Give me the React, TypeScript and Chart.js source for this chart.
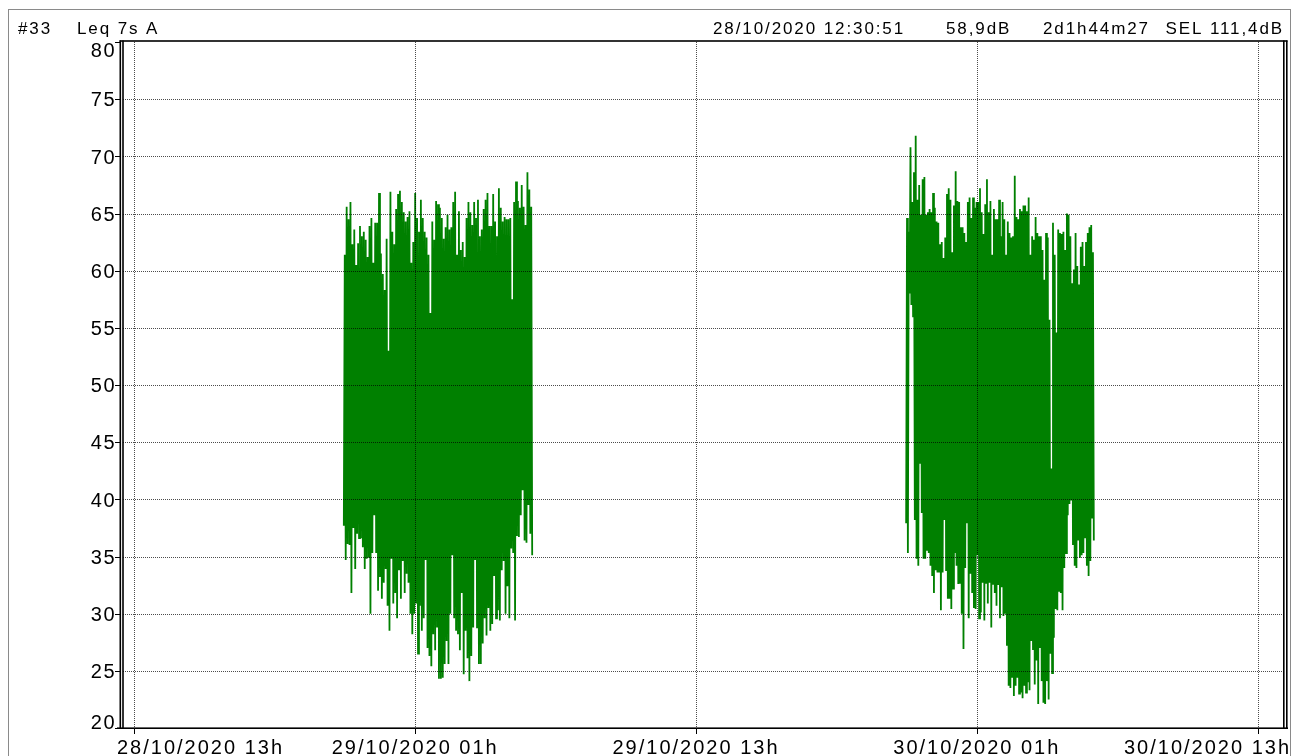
import React, { useEffect, useRef } from 'react';
import { Chart, registerables } from 'chart.js';

Chart.register(...registerables);

// ---- header texts ----
const headerId = '#33';
const headerMeasure = 'Leq 7s A';
const headerStart = '28/10/2020 12:30:51';
const headerLeq = '58,9dB';
const headerDuration = '2d1h44m27';
const headerSel = 'SEL 111,4dB';

// ---- time axis: hours since 28/10/2020 00:00 ----
const xMin = 12 + 30 / 60 + 51 / 3600; // 28/10/2020 12:30:51
const xMax = xMin + 49 + 44 / 60 + 27 / 3600; // + 2d1h44m27
const xTickHours = [13, 25, 37, 49, 61];
const xTickLabels = ['28/10/2020 13h', '29/10/2020 01h', '29/10/2020 13h', '30/10/2020 01h', '30/10/2020 13h'];
const yTickValues = [20, 25, 30, 35, 40, 45, 50, 55, 60, 65, 70, 75, 80];

// ---- night 1 (28/10 ~21:57 -> 29/10 ~06:00) ----
const night1Start = 21.95;
const night1End = 30.0;
const night1High = [
  61.4, 65.6, 64.5, 66.0, 62.3, 63.6, 60.5, 62.4, 63.9, 63.0, 63.4, 62.7, 61.2, 63.9, 64.6, 60.7, 64.2, 64.2, 66.8, 61.5,
  59.7, 58.3, 62.8, 53.0, 66.9, 63.4, 62.3, 65.4, 66.7, 67.0, 66.0, 65.1, 64.3, 64.7, 65.2, 60.7, 62.5, 66.8, 64.6, 63.4,
  66.2, 64.6, 63.4, 62.9, 61.4, 56.3, 64.3, 62.7, 66.1, 65.8, 65.5, 64.6, 62.8, 63.8, 64.9, 63.6, 63.8, 66.0, 66.9, 61.4,
  65.2, 61.8, 62.5, 61.2, 64.6, 66.0, 65.1, 64.0, 66.0, 64.6, 66.2, 63.0, 63.6, 65.4, 66.2, 66.8, 63.9, 63.9, 66.7, 64.3,
  63.0, 67.2, 65.5, 64.3, 64.7, 64.5, 64.5, 64.6, 57.5, 66.0, 67.8, 66.1, 65.5, 67.5, 65.6, 64.0, 68.6, 67.1, 65.6,
];
const night1Low = [
  37.7, 34.7, 36.1, 36.0, 31.8, 37.5, 33.9, 37.0, 36.6, 36.6, 35.8, 33.9, 34.8, 34.9, 30.0, 35.3, 38.6, 35.3, 32.0, 33.2,
  31.3, 32.7, 33.9, 30.7, 28.5, 34.8, 30.9, 31.8, 29.6, 33.8, 31.3, 34.6, 31.8, 33.5, 32.7, 30.0, 28.2, 30.0, 30.9, 26.5,
  30.7, 28.5, 29.6, 34.7, 27.0, 26.3, 25.4, 28.2, 26.8, 28.8, 24.3, 24.3, 24.4, 25.6, 27.6, 25.6, 30.0, 35.1, 29.6, 28.5,
  28.2, 26.8, 31.8, 24.7, 28.5, 26.1, 24.1, 26.3, 28.8, 34.7, 28.8, 25.6, 25.6, 27.4, 29.6, 28.1, 30.5, 28.5, 29.1, 33.3,
  29.6, 30.3, 29.4, 33.8, 34.6, 30.0, 32.4, 29.6, 35.7, 35.3, 29.4, 36.8, 36.7, 38.6, 40.8, 36.4, 36.2, 39.5, 37.0, 35.1,
];

// ---- night 2 (29/10 ~21:59 -> 30/10 ~06:00) ----
const night2Start = 45.98;
const night2End = 54.0;
const night2High = [
  64.6, 63.4, 70.8, 66.0, 68.6, 71.8, 66.2, 67.5, 64.9, 68.0, 68.2, 64.9, 65.1, 65.4, 65.1, 66.8, 65.5, 64.3, 64.2, 62.3,
  62.5, 61.1, 62.9, 66.7, 67.2, 66.2, 61.6, 65.7, 68.7, 66.1, 66.0, 63.8, 63.8, 63.3, 62.5, 66.0, 66.4, 64.6, 66.4, 65.5,
  66.0, 66.0, 67.2, 65.1, 63.2, 65.8, 68.0, 65.1, 66.1, 61.4, 65.4, 64.5, 64.5, 66.2, 63.0, 66.0, 64.5, 61.4, 64.3, 63.3,
  62.9, 63.0, 68.3, 64.7, 64.5, 65.4, 65.2, 65.7, 65.7, 65.2, 66.4, 61.4, 63.0, 62.7, 64.7, 63.3, 63.0, 63.0, 61.8, 59.2,
  63.3, 62.9, 55.7, 42.7, 64.2, 61.4, 54.6, 63.6, 63.3, 63.2, 63.4, 61.8, 65.0, 64.9, 63.0, 58.9, 60.1, 63.3, 60.4, 58.8,
  62.1, 62.5, 60.4, 62.5, 63.3, 63.8, 64.0, 61.6,
];
const night2Low = [
  37.9, 35.3, 58.0, 57.0, 56.0, 38.2, 34.8, 34.2, 43.2, 38.8, 34.8, 34.8, 35.5, 35.3, 34.2, 33.3, 31.8, 33.8, 33.6, 33.6,
  30.3, 33.6, 38.2, 33.8, 31.3, 31.3, 30.4, 32.2, 35.3, 34.2, 32.6, 32.7, 30.0, 26.9, 34.0, 37.9, 29.6, 33.5, 31.8, 30.5,
  30.4, 35.1, 29.6, 30.1, 32.7, 29.4, 32.7, 30.9, 32.7, 28.8, 32.6, 31.8, 30.7, 32.5, 29.6, 32.3, 29.8, 30.0, 27.2, 23.7,
  23.5, 24.4, 22.8, 23.7, 24.4, 23.0, 23.1, 22.6, 23.7, 23.1, 24.0, 23.3, 27.6, 26.9, 23.8, 25.9, 22.1, 27.0, 24.1, 22.2,
  22.1, 24.1, 22.5, 26.5, 24.8, 27.9, 30.4, 30.3, 32.0, 31.8, 30.3, 34.0, 35.3, 38.6, 39.6, 39.9, 36.0, 34.2, 34.0, 36.4,
  34.9, 35.1, 35.3, 36.6, 34.2, 33.3, 34.6, 38.4, 36.4,
];

// strictly alternate low / high readings on an even 7 s-style sampling grid
function buildSeries(highs: number[], lows: number[], t0: number, t1: number) {
  const seq: number[] = [];
  const n = Math.max(highs.length, lows.length);
  for (let i = 0; i < n; i++) {
    if (i < lows.length) seq.push(lows[i]);
    if (i < highs.length) seq.push(highs[i]);
  }
  const step = (t1 - t0) / (seq.length - 1);
  return seq.map((v, k) => ({ x: t0 + k * step, y: v }));
}

const FONT = '"Liberation Sans", Arial, Helvetica, sans-serif';

const overlayPlugin = {
  id: 'overlay',
  afterDatasetsDraw(chart: any) {
    const ctx: CanvasRenderingContext2D = chart.ctx;
    const xs = chart.scales.x;
    const ys = chart.scales.y;
    const { left, right, top, bottom } = chart.chartArea;
    ctx.save();
    // dotted grid, drawn over the data
    ctx.setLineDash([1, 1]);
    ctx.lineWidth = 1;
    ctx.strokeStyle = 'rgba(0,0,0,0.7)';
    ctx.beginPath();
    yTickValues.forEach((v) => {
      if (v === 20 || v === 80) return;
      const y = Math.round(ys.getPixelForValue(v)) + 0.5;
      ctx.moveTo(left, y);
      ctx.lineTo(right - 2, y);
    });
    xTickHours.forEach((h) => {
      const x = Math.round(xs.getPixelForValue(h)) + 0.5;
      ctx.moveTo(x, top);
      ctx.lineTo(x, bottom);
    });
    ctx.stroke();
    ctx.setLineDash([]);

    // frame of the plot (double vertical lines)
    ctx.fillStyle = '#000';
    ctx.fillRect(left - 3.5, top - 1.5, 1.6, bottom - top + 1.5);
    ctx.fillRect(left - 0.8, top - 1.5, 1.6, bottom - top + 1.5);
    ctx.fillRect(right - 4, top - 1.5, 1.6, bottom - top + 1.5);
    ctx.fillRect(right - 1, top - 1.5, 1.6, bottom - top + 1.5);
    ctx.fillRect(left - 3.5, top - 1.8, right - left + 4, 1.6);
    ctx.fillRect(left - 6, bottom - 0.6, right - left + 7, 1.6);

    // tick marks
    ctx.lineWidth = 1;
    ctx.strokeStyle = '#000';
    ctx.beginPath();
    yTickValues.forEach((v) => {
      const y = Math.round(ys.getPixelForValue(v)) + 0.5;
      ctx.moveTo(left - 8, y);
      ctx.lineTo(left - 3, y);
    });
    xTickHours.forEach((h) => {
      const x = Math.round(xs.getPixelForValue(h)) + 0.5;
      ctx.moveTo(x, bottom);
      ctx.lineTo(x, bottom + 6);
    });
    ctx.stroke();
    ctx.restore();
  },
  afterDraw(chart: any) {
    const ctx: any = chart.ctx;
    const xs = chart.scales.x;
    const ys = chart.scales.y;
    const { left, bottom } = chart.chartArea;
    ctx.save();
    // outer frame
    ctx.strokeStyle = '#8a8a8a';
    ctx.lineWidth = 1;
    ctx.strokeRect(8.5, 9.5, 1282, 800);

    ctx.fillStyle = '#000';
    ctx.textBaseline = 'alphabetic';
    ctx.textAlign = 'left';
    // header
    ctx.font = `17px ${FONT}`;
    ctx.letterSpacing = '1.9px';
    ctx.fillText(headerId, 18, 33.5);
    ctx.fillText(headerMeasure, 77, 33.5);
    ctx.fillText(headerStart, 713, 33.5);
    ctx.fillText(headerLeq, 946, 33.5);
    ctx.fillText(headerDuration, 1043, 33.5);
    ctx.textAlign = 'right';
    ctx.fillText(headerSel, 1284, 33.5);
    ctx.textAlign = 'left';

    // y labels
    ctx.font = `20px ${FONT}`;
    ctx.letterSpacing = '1.5px';
    ctx.textAlign = 'right';
    yTickValues.forEach((v, i) => {
      const py = ys.getPixelForValue(v);
      let base = py + 7.2;
      if (i === yTickValues.length - 1) base = py + 15;
      if (i === 0) base = py + 1;
      ctx.fillText(String(v), left - 7, base);
    });

    // x labels
    ctx.font = `20px ${FONT}`;
    ctx.letterSpacing = '2px';
    ctx.textAlign = 'left';
    xTickHours.forEach((h, i) => {
      const px = xs.getPixelForValue(h);
      const label = xTickLabels[i];
      const w = ctx.measureText(label).width;
      let x0 = px - w / 2;
      if (x0 < 117) x0 = 117;
      if (x0 + w > 1291) x0 = 1291 - w;
      ctx.fillText(label, x0, bottom + 25.5);
    });
    ctx.letterSpacing = '0px';
    ctx.restore();
  },
};

export default function App() {
  const ref = useRef<HTMLCanvasElement>(null);
  useEffect(() => {
    const canvas = ref.current;
    if (!canvas) return;
    const lineStyle = {
      borderColor: '#008000',
      backgroundColor: '#008000',
      borderWidth: 1.8,
      pointRadius: 0,
      tension: 0,
      fill: false,
    };
    const chart = new Chart(canvas, {
      type: 'line',
      data: {
        datasets: [
          { label: 'night1', data: buildSeries(night1High, night1Low, night1Start, night1End), ...lineStyle },
          { label: 'night2', data: buildSeries(night2High, night2Low, night2Start, night2End), ...lineStyle },
        ],
      },
      options: {
        animation: false,
        responsive: false,
        devicePixelRatio: 1,
        events: [],
        layout: { padding: { left: 123, top: 42, right: 6, bottom: 28 } },
        plugins: { legend: { display: false }, tooltip: { enabled: false }, title: { display: false } },
        scales: {
          x: { type: 'linear', display: false, min: xMin, max: xMax },
          y: { type: 'linear', display: false, min: 20, max: 80 },
        },
      },
      plugins: [overlayPlugin],
    } as any);
    return () => chart.destroy();
  }, []);
  return (
    <div style={{ position: 'fixed', left: 0, top: 0, width: 1293, height: 756, background: '#fff' }}>
      <canvas ref={ref} width={1293} height={756} style={{ display: 'block', width: 1293, height: 756 }} />
    </div>
  );
}
